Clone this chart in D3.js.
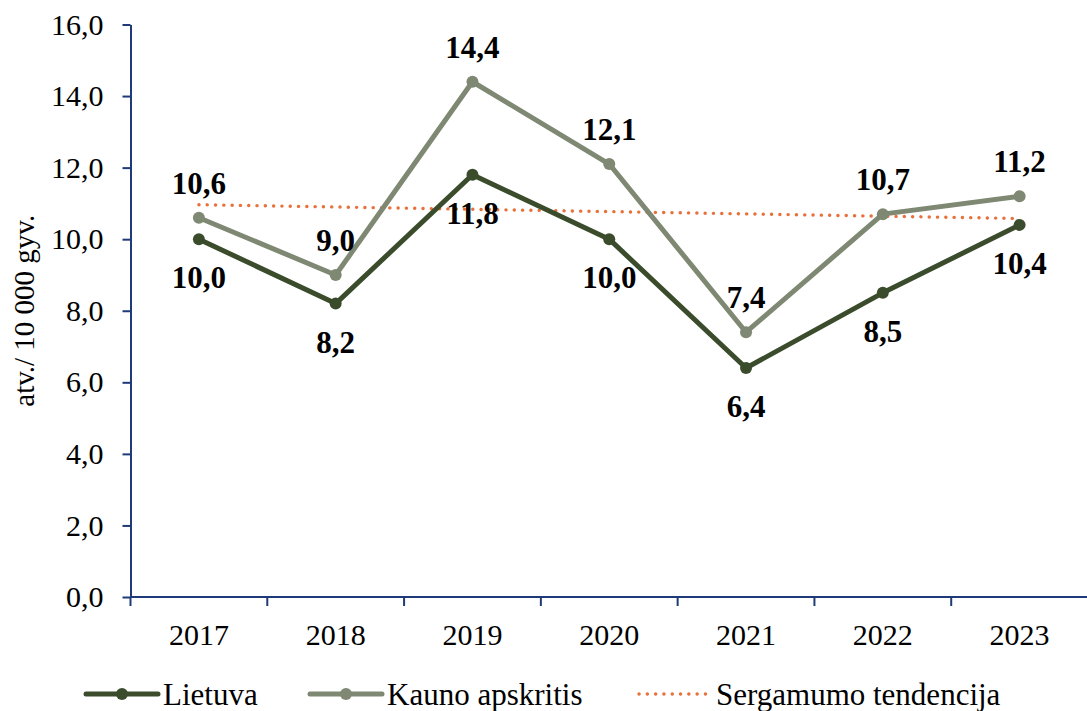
<!DOCTYPE html>
<html>
<head>
<meta charset="utf-8">
<script src="https://cdn.jsdelivr.net/npm/d3@7/dist/d3.min.js"></script>
<style>
  html, body { margin: 0; padding: 0; background: #fff; }
  svg { display: block; font-family: "Liberation Serif", "Times New Roman", serif; }
</style>
</head>
<body>
<svg id="chart" width="1087" height="711"></svg>
<script>
// Incidence per 10 000 population, 2017–2023
const years = ["2017", "2018", "2019", "2020", "2021", "2022", "2023"];
const lietuva = [10.0, 8.2, 11.8, 10.0, 6.4, 8.5, 10.4];
const kaunas = [10.6, 9.0, 14.4, 12.1, 7.4, 10.7, 11.2];
const yTicks = [0, 2, 4, 6, 8, 10, 12, 14, 16];
const seriesNames = ["Lietuva", "Kauno apskritis", "Sergamumo tendencija"];

const colLt = "#3a4c2b";
const colKa = "#7e8872";
const colTrend = "#e8703a";
const colAxis = "#1f3a78";
const serif = "Liberation Serif, Times New Roman, serif";

const fmt = v => v.toFixed(1).replace(".", ",");

// Linear least-squares trend over the county series
const n = kaunas.length;
const xs = d3.range(1, n + 1);
const mx = d3.mean(xs), my = d3.mean(kaunas);
const slope = d3.sum(xs, (x, i) => (x - mx) * (kaunas[i] - my)) / d3.sum(xs, x => (x - mx) ** 2);
const trend = [
  { year: years[0], v: my + slope * (xs[0] - mx) },
  { year: years[n - 1], v: my + slope * (xs[n - 1] - mx) }
];

const svg = d3.select("#chart");

const x = d3.scaleBand().domain(years).range([130.5, 1088]).padding(0);
const y = d3.scaleLinear().domain([0, 16]).range([597, 24.5]);
const cx = d => x(d) + x.bandwidth() / 2;

// Y axis
const yAxis = svg.append("g")
  .attr("transform", `translate(${x.range()[0]},0)`)
  .call(d3.axisLeft(y).tickValues(yTicks).tickFormat(fmt).tickSize(8).tickPadding(19).tickSizeOuter(0))
  .attr("font-family", serif);
yAxis.select(".domain").attr("stroke", colAxis).attr("stroke-width", 2);
yAxis.selectAll(".tick line").attr("stroke", colAxis).attr("stroke-width", 2);
yAxis.selectAll(".tick text").attr("fill", "#000").attr("font-size", 30);

// X axis with ticks at category boundaries
const xAxis = svg.append("g").attr("transform", `translate(0,${y(0)})`);
xAxis.append("line").attr("x1", x.range()[0]).attr("x2", 1087).attr("y1", 0).attr("y2", 0)
  .attr("stroke", colAxis).attr("stroke-width", 2);
const bounds = years.map(d => x(d)).concat([x.range()[1]]);
xAxis.selectAll(".bt").data(bounds).join("line")
  .attr("x1", d => d).attr("x2", d => d).attr("y1", 0).attr("y2", 9)
  .attr("stroke", colAxis).attr("stroke-width", 2);
xAxis.selectAll(".yl").data(years).join("text")
  .attr("x", d => cx(d)).attr("y", 48)
  .attr("text-anchor", "middle").attr("font-size", 30).attr("fill", "#000")
  .text(d => d);

// Y axis title
svg.append("text")
  .attr("transform", `translate(34,${y(8)}) rotate(-90)`)
  .attr("text-anchor", "middle").attr("font-size", 29).attr("fill", "#000")
  .text("atv./ 10 000 gyv.");

const line = d3.line().x(d => cx(d.year)).y(d => y(d.v));

// Trend line
svg.append("path").datum(trend)
  .attr("d", line).attr("fill", "none")
  .attr("stroke", colTrend).attr("stroke-width", 3.4)
  .attr("stroke-linecap", "round").attr("stroke-dasharray", "0.1 8.2");

function drawSeries(vals, color) {
  const data = years.map((yr, i) => ({ year: yr, v: vals[i] }));
  svg.append("path").datum(data)
    .attr("d", line).attr("fill", "none")
    .attr("stroke", color).attr("stroke-width", 5).attr("stroke-linejoin", "round");
  svg.append("g").selectAll("circle").data(data).join("circle")
    .attr("cx", d => cx(d.year)).attr("cy", d => y(d.v)).attr("r", 6)
    .attr("fill", color);
  return data;
}

const ltData = drawSeries(lietuva, colLt);
const kaData = drawSeries(kaunas, colKa);

// Value labels: county above, national below
svg.append("g").selectAll("text").data(kaData).join("text")
  .attr("x", d => cx(d.year)).attr("y", d => y(d.v) - 24)
  .attr("text-anchor", "middle").attr("font-size", 31).attr("font-weight", "bold").attr("fill", "#000")
  .text(d => fmt(d.v));
svg.append("g").selectAll("text").data(ltData).join("text")
  .attr("x", d => cx(d.year)).attr("y", d => y(d.v) + 49)
  .attr("text-anchor", "middle").attr("font-size", 31).attr("font-weight", "bold").attr("fill", "#000")
  .text(d => fmt(d.v));

// Legend
const legY = 694;
const legend = [
  { name: seriesNames[0], x0: 86, x1: 158, tx: 163, color: colLt, type: "marker" },
  { name: seriesNames[1], x0: 310, x1: 382, tx: 387, color: colKa, type: "marker" },
  { name: seriesNames[2], x0: 639, x1: 709, tx: 716, color: colTrend, type: "dot" }
];
const lg = svg.append("g").selectAll("g").data(legend).join("g");
lg.append("line")
  .attr("x1", d => d.x0).attr("x2", d => d.x1).attr("y1", legY).attr("y2", legY)
  .attr("stroke", d => d.color)
  .attr("stroke-width", d => d.type === "dot" ? 3.4 : 5)
  .attr("stroke-linecap", "round")
  .attr("stroke-dasharray", d => d.type === "dot" ? "0.1 8.2" : null);
lg.filter(d => d.type === "marker").append("circle")
  .attr("cx", d => (d.x0 + d.x1) / 2).attr("cy", legY).attr("r", 6).attr("fill", d => d.color);
lg.append("text")
  .attr("x", d => d.tx).attr("y", 705)
  .attr("font-size", 31).attr("fill", "#000")
  .text(d => d.name);
</script>
</body>
</html>
